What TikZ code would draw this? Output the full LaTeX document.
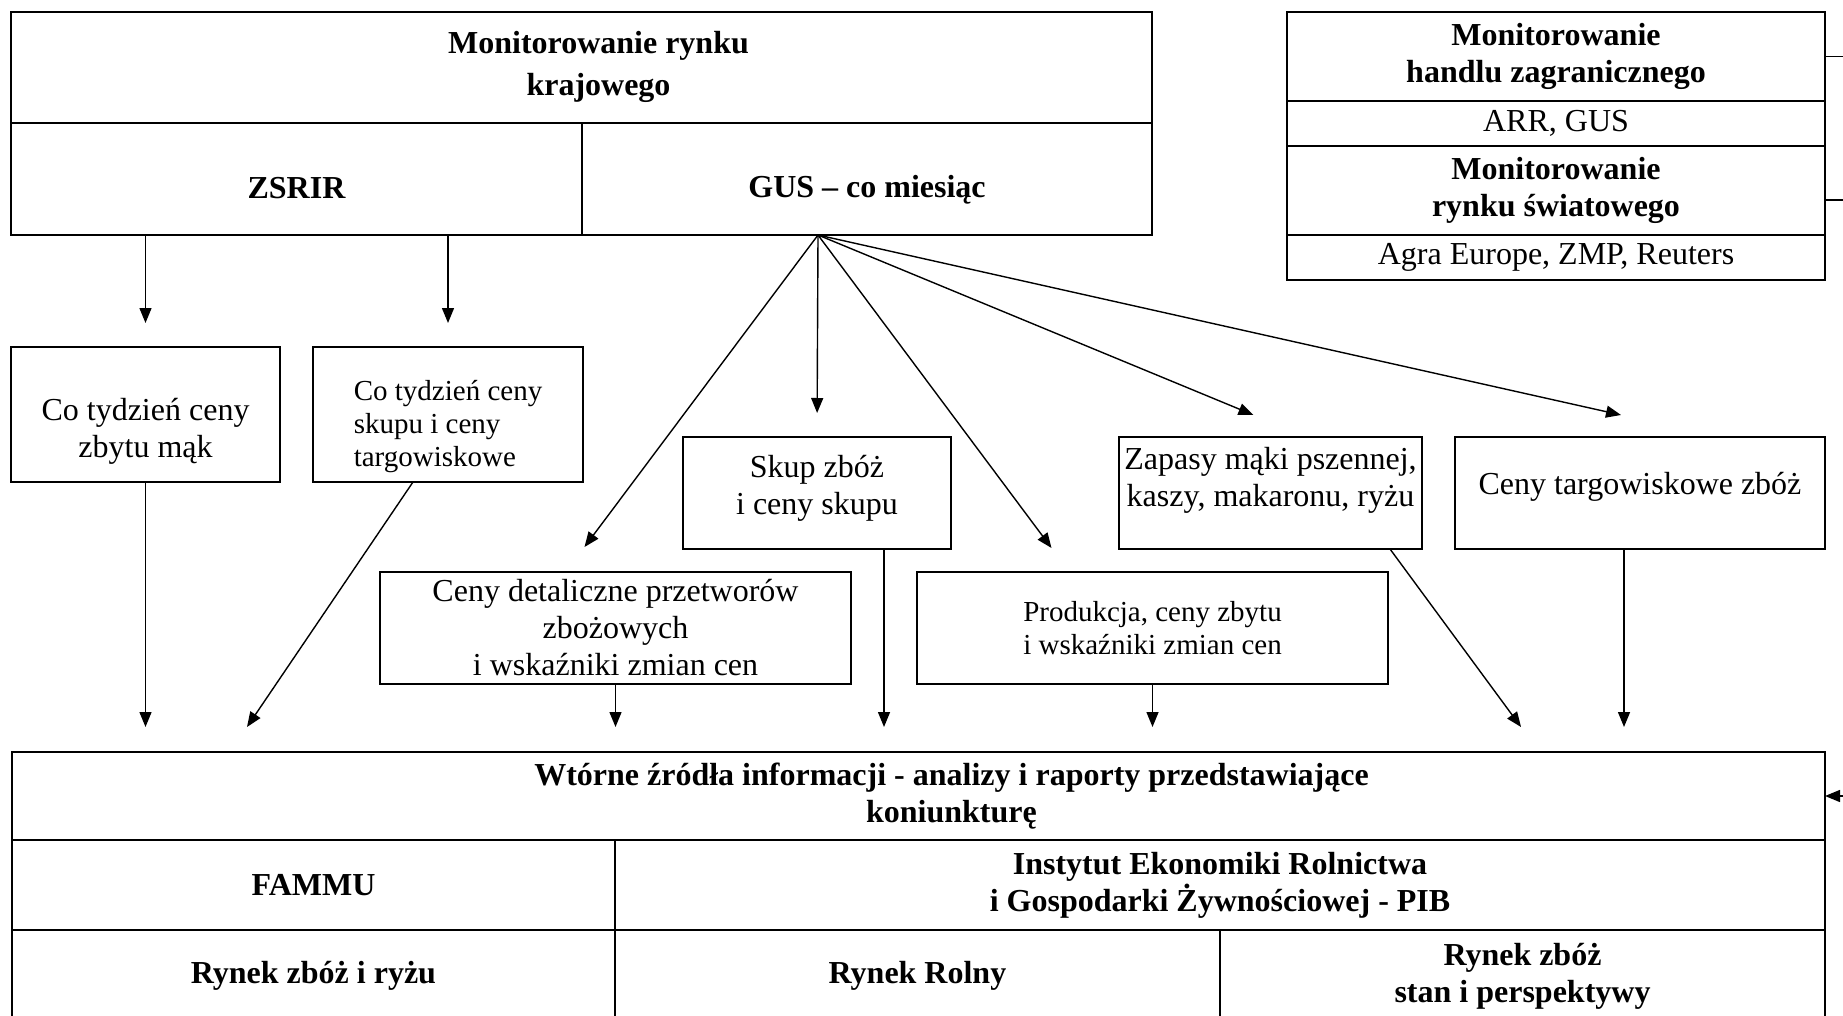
\documentclass[tikz,border=0pt]{standalone}
\usepackage{fontspec}
\setmainfont{Liberation Serif}
\usetikzlibrary{positioning}
\usetikzlibrary{arrows.meta}
\newcommand\boxfont{\fontsize{32pt}{37pt}\selectfont}
\newcommand\wideboxfont{\fontsize{32pt}{42pt}\selectfont}
\newcommand\smallboxfont{\fontsize{29pt}{33pt}\selectfont}
\tikzset{
	cell/.style={
		draw,
		rectangle,
		align=center,
		inner sep=0pt,
		outer sep=0pt,
		line width=1.8pt,
		font=\boxfont
	},
	head/.style={cell, font=\boxfont\bfseries},
	lab/.style={align=center, inner sep=0pt, font=\boxfont},
	arr/.style={-{Triangle[length=15pt,width=12pt]}, line width=1.4pt}
}

\begin{document}
\begin{tikzpicture}[x=1pt, y=-1pt]
	\useasboundingbox (0,0) rectangle (1843,1016);
	\clip (0,0) rectangle (1843,1016);
	% rynek krajowy
	\node[head, minimum width=1141pt, minimum height=111pt, label={[lab, font=\wideboxfont\bfseries, xshift=17pt, yshift=1pt]center:Monitorowanie rynku\\ krajowego}] (Krajowy) at (581.5,67.5) {};
	\node[head, minimum width=571pt, minimum height=112pt, below right=0pt and 0pt of Krajowy.south west, label={[lab, font=\boxfont\bfseries, yshift=-9pt]center:ZSRIR}] (Zsrir) {};
	\node[head, minimum width=570pt, minimum height=112pt, right=0pt of Zsrir, label={[lab, font=\boxfont\bfseries, yshift=-11pt]center:GUS – co miesiąc}] (Gus) {};
	% handel zagraniczny i rynek swiatowy
	\node[head, minimum width=538pt, minimum height=89pt] (Handel) at (1556,56.5) {Monitorowanie\\ handlu zagranicznego};
	\node[cell, minimum width=538pt, minimum height=45pt, below=0pt of Handel] (ArrGus) {ARR, GUS};
	\node[head, minimum width=538pt, minimum height=89pt, below=0pt of ArrGus] (Swiat) {Monitorowanie\\ rynku światowego};
	\node[cell, minimum width=538pt, minimum height=45pt, below=0pt of Swiat] (Agra) {Agra Europe, ZMP, Reuters};
	% zrodla pierwotne
	\node[cell, minimum width=269pt, minimum height=135pt, label={[lab, yshift=-17pt]center:Co tydzień ceny\\ zbytu mąk}] (ZbytuMak) at (145.5,414.5) {};
	\node[cell, minimum width=270pt, minimum height=135pt, label={[lab, align=left, font=\smallboxfont, yshift=-12pt]center:Co tydzień ceny\\ skupu i ceny\\ targowiskowe}] (SkupTarg) at (448,414.5) {};
	\node[cell, minimum width=268pt, minimum height=112pt, label={[lab, yshift=5pt]center:Skup zbóż\\ i ceny skupu}] (Skup) at (817,493) {};
	\node[cell, minimum width=303pt, minimum height=112pt, label={[lab, yshift=13pt]center:Zapasy mąki pszennej,\\ kaszy, makaronu, ryżu}] (Zapasy) at (1270.5,493) {};
	\node[cell, minimum width=370pt, minimum height=112pt, label={[lab, yshift=6pt]center:Ceny targowiskowe zbóż}] (Targ) at (1640,493) {};
	\node[cell, minimum width=471pt, minimum height=112pt] (Detal) at (615.5,628) {Ceny detaliczne przetworów\\ zbożowych\\ i wskaźniki zmian cen};
	\node[cell, minimum width=471pt, minimum height=112pt, font=\smallboxfont] (Produkcja) at (1152.5,628) {Produkcja, ceny zbytu\\ i wskaźniki zmian cen};
	% zrodla wtorne
	\node[head, minimum width=1813pt, minimum height=88pt, label={[lab, font=\boxfont\bfseries, xshift=33pt]center:Wtórne źródła informacji - analizy i raporty przedstawiające\\ koniunkturę}] (Wtorne) at (918.5,796) {};
	\node[head, minimum width=603pt, minimum height=90pt, below right=0pt and 0pt of Wtorne.south west] (Fammu) {FAMMU};
	\node[head, minimum width=1210pt, minimum height=90pt, right=0pt of Fammu] (Ierigz) {Instytut Ekonomiki Rolnictwa\\ i Gospodarki Żywnościowej - PIB};
	\node[head, minimum width=603pt, minimum height=92pt, below=0pt of Fammu] (RynekZboz) {Rynek zbóż i ryżu};
	\node[head, minimum width=605pt, minimum height=92pt, right=0pt of RynekZboz] (RynekRolny) {Rynek Rolny};
	\node[head, minimum width=605pt, minimum height=92pt, right=0pt of RynekRolny] (Perspektywy) {Rynek zbóż\\ stan i perspektywy};

	\draw[arr, shorten >=24pt] (Zsrir.south -| ZbytuMak.north) -- (ZbytuMak.north);
	\draw[arr, shorten >=24pt] (Zsrir.south -| SkupTarg.north) -- (SkupTarg.north);

	\coordinate (Fan) at ([xshift=236pt]Gus.south west);
	\draw[arr] (Fan) -- ([xshift=-31pt,yshift=25pt]Detal.north);
	\draw[arr, shorten >=24pt] (Fan) -- (Skup.north);
	\draw[arr] (Fan) -- ([xshift=-101pt,yshift=24pt]Produkcja.north);
	\draw[arr] (Fan) -- ([xshift=-17pt,yshift=22pt]Zapasy.north);
	\draw[arr] (Fan) -- ([xshift=-19pt,yshift=22pt]Targ.north);

	\coordinate (SkupOut) at ([xshift=67pt]Skup.south);
	\coordinate (TargOut) at ([xshift=-16pt]Targ.south);
	\draw[arr, shorten >=25pt] (ZbytuMak.south) -- (ZbytuMak.south |- Wtorne.north);
	\draw[arr] ([xshift=-35pt]SkupTarg.south) -- ([xshift=235pt,yshift=25pt]Wtorne.north west);
	\draw[arr, shorten >=25pt] (Detal.south) -- (Detal.south |- Wtorne.north);
	\draw[arr, shorten >=25pt] (SkupOut) -- (SkupOut |- Wtorne.north);
	\draw[arr, shorten >=25pt] (Produkcja.south) -- (Produkcja.south |- Wtorne.north);
	\draw[arr] ([xshift=119.5pt]Zapasy.south) -- ([xshift=602.5pt,yshift=25pt]Wtorne.north);
	\draw[arr, shorten >=25pt] (TargOut) -- (TargOut |- Wtorne.north);

	% polaczenie z prawej strony
	\draw[arr] (Handel.east) -- ++(50,0) |- (Wtorne.east);
	\draw[line width=1.4pt] ([yshift=-9.5pt]Swiat.east) -- ++(50,0);
\end{tikzpicture}
\end{document}
